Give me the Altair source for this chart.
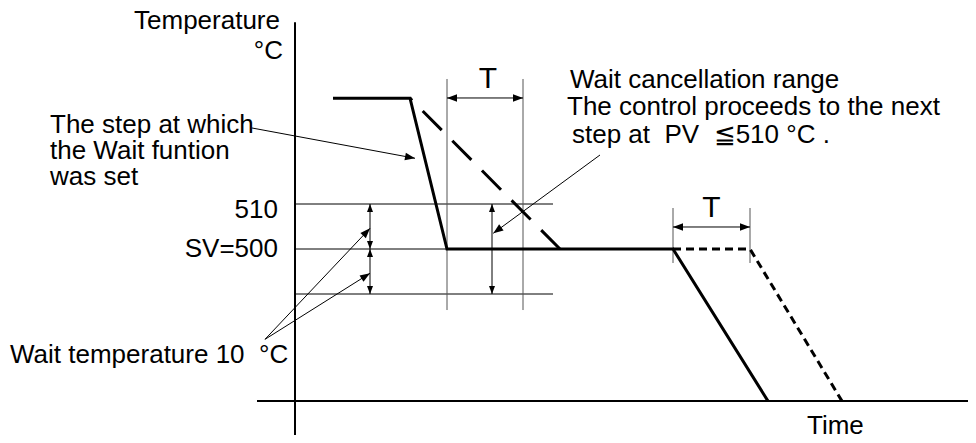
import math
import altair as alt
import pandas as pd

# ---------------- scale set-up (time units / °C) ----------------
W, H = 960, 427
PX_PER_DEG = 4.5                      # vertical scale: pixels per °C
T_DOMAIN = [-287, 673]                # time axis (arbitrary units)
Y_DOMAIN = [500 - 186 / PX_PER_DEG, 500 + 241 / PX_PER_DEG]
FONT = "Liberation Sans"

# ---------------- data ----------------
SV = 500
WAIT_HI, WAIT_LO = 510, 490
PREV = 533.5            # temperature of the preceding step
BASE = 466.2            # time-axis level

# program pattern (solid) and pattern delayed by the Wait (dashed)
prog_t = [38, 115, 152, 378, 473]
prog_v = [PREV, PREV, SV, SV, BASE]
wait1_t = [115, 265]
wait1_v = [PREV, SV]
wait2_t = [378, 455, 547]
wait2_v = [SV, SV, BASE]

# frame: axes
axes_t = [0, -38]
axes_v = [550.4, BASE]
axes_t2 = [0, 690]
axes_v2 = [458.2, BASE]

# thin reference lines 510 / 500 / 490
ref_levels = [WAIT_HI, SV, WAIT_LO]
ref_end = 258

# T marker lines
tmark_t = [152, 228, 378, 455]
tmark_v = [486.44, 486.44, 496.89, 496.89]
tmark_v2 = [537.78, 537.78, 509.11, 509.11]

# double-headed arrows (t, v) -> (t2, v2)
dbl_t = [152, 378, 75, 75, 197]
dbl_v = [533.56, 504.89, WAIT_HI, SV, WAIT_HI]
dbl_t2 = [228, 455, 75, 75, 197]
dbl_v2 = [533.56, 504.89, SV, WAIT_LO, WAIT_LO]
dbl_size = [100, 100, 64, 64, 64]

# leader arrows (start -> tip)
lead_t = [-43, 305, -30, -30]
lead_v = [526.89, 520.89, 479.93, 479.93]
lead_t2 = [120, 198.3, 75, 75]
lead_v2 = [520.16, 503.49, 504.6, 494.6]

# texts
txt_left = [
    ("The step at which", -245, 525.71),
    ("the Wait funtion", -245, 520.0),
    ("was set", -245, 514.22),
    ("Wait temperature 10\u00a0\u00a0°C", -285, 474.6),
    ("Wait cancellation range", 275, 535.71),
    ("The control proceeds to the next", 272, 529.78),
    ("step at\u00a0\u00a0PV\u00a0\u00a0≦510\u00a0°C\u00a0.", 277, 523.49),
    ("Time", 512, 458.9),
]
txt_right = [
    ("Temperature", -15, 548.9),
    ("°C", -12, 542.16),
    ("510", -17, 506.82),
    ("SV=500", -17, 498.16),
]
txt_center = [
    ("T", 193, 535.71),
    ("T", 416.5, 507.1),
]

# ---------------- helpers ----------------
X = lambda f="t": alt.X(f"{f}:Q", scale=alt.Scale(domain=T_DOMAIN, nice=False, zero=False), axis=None)
Y = lambda f="v": alt.Y(f"{f}:Q", scale=alt.Scale(domain=Y_DOMAIN, nice=False, zero=False), axis=None)


def head_angle(t0, v0, t1, v1):
    dx = t1 - t0
    dy = -(v1 - v0) * PX_PER_DEG
    return math.degrees(math.atan2(dx, -dy)) % 360


def rules(df, width=1.0, color="black", dash=None):
    kw = dict(strokeWidth=width, color=color)
    if dash:
        kw["strokeDash"] = dash
    return alt.Chart(df).mark_rule(**kw).encode(
        x=X("t"), y=Y("v"), x2=alt.X2("t2:Q"), y2=alt.Y2("v2:Q"))


def poly(ts, vs, width=3.0, dash=None, offset=0):
    df = pd.DataFrame({"t": ts, "v": vs, "o": list(range(len(ts)))})
    kw = dict(strokeWidth=width, color="black", strokeJoin="miter", strokeCap="butt")
    if dash:
        kw["strokeDash"] = dash
        kw["strokeDashOffset"] = offset
    return alt.Chart(df).mark_line(**kw).encode(x=X("t"), y=Y("v"), order="o:Q")


# ---------------- layers ----------------
axes_df = pd.DataFrame({"t": axes_t, "v": axes_v, "t2": axes_t2, "v2": axes_v2})
ref_df = pd.DataFrame({"t": [0] * 3, "v": ref_levels, "t2": [ref_end] * 3, "v2": ref_levels})
tmark_df = pd.DataFrame({"t": tmark_t, "v": tmark_v, "t2": tmark_t, "v2": tmark_v2})
dbl_df = pd.DataFrame({"t": dbl_t, "v": dbl_v, "t2": dbl_t2, "v2": dbl_v2})
lead_df = pd.DataFrame({"t": lead_t, "v": lead_v, "t2": lead_t2, "v2": lead_v2})

heads = []
for a, b, c, d, s in zip(dbl_t, dbl_v, dbl_t2, dbl_v2, dbl_size):
    heads.append({"t": c, "v": d, "angle": head_angle(a, b, c, d), "size": s})
    heads.append({"t": a, "v": b, "angle": head_angle(c, d, a, b), "size": s})
for a, b, c, d in zip(lead_t, lead_v, lead_t2, lead_v2):
    heads.append({"t": c, "v": d, "angle": head_angle(a, b, c, d), "size": 100})
heads_df = pd.DataFrame(heads)

ARROW = "M0,0L-0.75,2L0.75,2Z"
heads_layer = alt.Chart(heads_df).mark_point(
    shape=ARROW, filled=True, color="black", opacity=1, strokeWidth=0
).encode(x=X("t"), y=Y("v"),
         angle=alt.Angle("angle:Q", scale=None),
         size=alt.Size("size:Q", scale=None))


def texts(rows, align, size=26):
    df = pd.DataFrame(rows, columns=["label", "t", "v"])
    return alt.Chart(df).mark_text(
        align=align, baseline="alphabetic", font=FONT, fontSize=size, color="black"
    ).encode(x=X("t"), y=Y("v"), text="label:N")


chart = alt.layer(
    rules(ref_df, 1.0),
    rules(tmark_df, 1.0, color="#555555"),
    rules(dbl_df, 1.0),
    rules(lead_df, 1.0),
    rules(axes_df, 2.0),
    poly(prog_t, prog_v, 3.0),
    poly(wait1_t, wait1_v, 3.0, dash=[27, 15], offset=24),
    poly(wait2_t, wait2_v, 3.0, dash=[8, 5]),
    heads_layer,
    texts(txt_left, "left"),
    texts(txt_right, "right"),
    texts(txt_center, "center", 30),
).properties(
    width=W, height=H, autosize=alt.AutoSizeParams(type="none"), padding=0
).configure_view(stroke=None)

chart.save("out.html", embed_options={"renderer": "svg", "actions": False})
